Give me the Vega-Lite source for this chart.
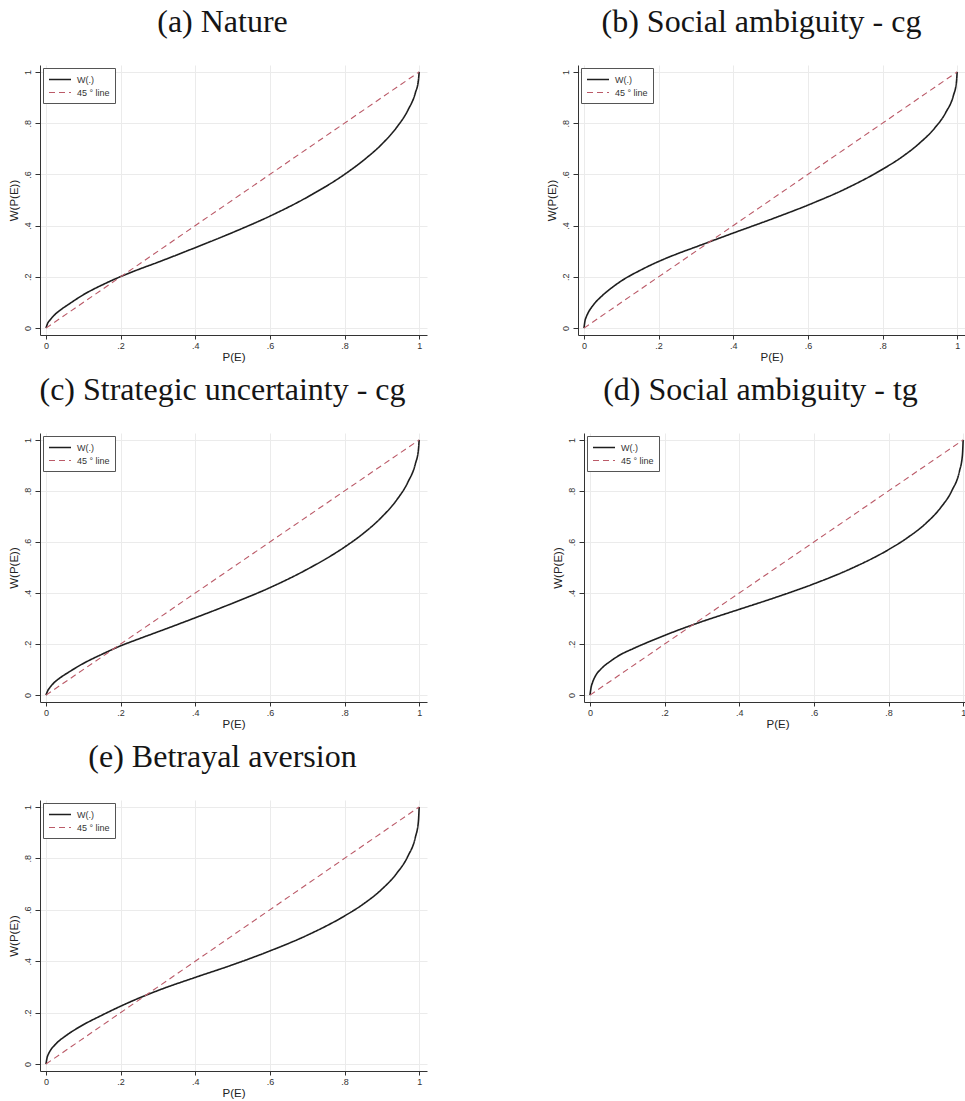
{
  "$schema": "https://vega.github.io/schema/vega-lite/v6.json",
  "background": "white",
  "padding": {"left": 7, "top": 6, "right": 0, "bottom": 0},
  "datasets": {
    "curves": [
      {"panel": "a", "series": "W(.)", "p": 0, "w": 0},
      {"panel": "a", "series": "W(.)", "p": 0.005, "w": 0.02},
      {"panel": "a", "series": "W(.)", "p": 0.01, "w": 0.03},
      {"panel": "a", "series": "W(.)", "p": 0.02, "w": 0.047},
      {"panel": "a", "series": "W(.)", "p": 0.04, "w": 0.072},
      {"panel": "a", "series": "W(.)", "p": 0.06, "w": 0.092},
      {"panel": "a", "series": "W(.)", "p": 0.1, "w": 0.13},
      {"panel": "a", "series": "W(.)", "p": 0.15, "w": 0.168},
      {"panel": "a", "series": "W(.)", "p": 0.2, "w": 0.201},
      {"panel": "a", "series": "W(.)", "p": 0.25, "w": 0.23},
      {"panel": "a", "series": "W(.)", "p": 0.3, "w": 0.257},
      {"panel": "a", "series": "W(.)", "p": 0.4, "w": 0.314},
      {"panel": "a", "series": "W(.)", "p": 0.5, "w": 0.373},
      {"panel": "a", "series": "W(.)", "p": 0.6, "w": 0.437},
      {"panel": "a", "series": "W(.)", "p": 0.7, "w": 0.511},
      {"panel": "a", "series": "W(.)", "p": 0.8, "w": 0.6},
      {"panel": "a", "series": "W(.)", "p": 0.85, "w": 0.654},
      {"panel": "a", "series": "W(.)", "p": 0.9, "w": 0.718},
      {"panel": "a", "series": "W(.)", "p": 0.94, "w": 0.784},
      {"panel": "a", "series": "W(.)", "p": 0.97, "w": 0.851},
      {"panel": "a", "series": "W(.)", "p": 0.99, "w": 0.919},
      {"panel": "a", "series": "W(.)", "p": 0.998, "w": 0.967},
      {"panel": "a", "series": "W(.)", "p": 1, "w": 1},
      {"panel": "a", "series": "45 ° line", "p": 0, "w": 0},
      {"panel": "a", "series": "45 ° line", "p": 1, "w": 1},

      {"panel": "b", "series": "W(.)", "p": 0, "w": 0},
      {"panel": "b", "series": "W(.)", "p": 0.003, "w": 0.03},
      {"panel": "b", "series": "W(.)", "p": 0.006, "w": 0.043},
      {"panel": "b", "series": "W(.)", "p": 0.012, "w": 0.062},
      {"panel": "b", "series": "W(.)", "p": 0.025, "w": 0.09},
      {"panel": "b", "series": "W(.)", "p": 0.05, "w": 0.128},
      {"panel": "b", "series": "W(.)", "p": 0.075, "w": 0.158},
      {"panel": "b", "series": "W(.)", "p": 0.1, "w": 0.184},
      {"panel": "b", "series": "W(.)", "p": 0.15, "w": 0.225},
      {"panel": "b", "series": "W(.)", "p": 0.2, "w": 0.26},
      {"panel": "b", "series": "W(.)", "p": 0.25, "w": 0.29},
      {"panel": "b", "series": "W(.)", "p": 0.3, "w": 0.317},
      {"panel": "b", "series": "W(.)", "p": 0.4, "w": 0.371},
      {"panel": "b", "series": "W(.)", "p": 0.5, "w": 0.424},
      {"panel": "b", "series": "W(.)", "p": 0.6, "w": 0.48},
      {"panel": "b", "series": "W(.)", "p": 0.7, "w": 0.543},
      {"panel": "b", "series": "W(.)", "p": 0.8, "w": 0.62},
      {"panel": "b", "series": "W(.)", "p": 0.85, "w": 0.666},
      {"panel": "b", "series": "W(.)", "p": 0.9, "w": 0.723},
      {"panel": "b", "series": "W(.)", "p": 0.94, "w": 0.781},
      {"panel": "b", "series": "W(.)", "p": 0.97, "w": 0.843},
      {"panel": "b", "series": "W(.)", "p": 0.99, "w": 0.908},
      {"panel": "b", "series": "W(.)", "p": 0.998, "w": 0.959},
      {"panel": "b", "series": "W(.)", "p": 1, "w": 1},
      {"panel": "b", "series": "45 ° line", "p": 0, "w": 0},
      {"panel": "b", "series": "45 ° line", "p": 1, "w": 1},

      {"panel": "c", "series": "W(.)", "p": 0, "w": 0},
      {"panel": "c", "series": "W(.)", "p": 0.005, "w": 0.018},
      {"panel": "c", "series": "W(.)", "p": 0.01, "w": 0.029},
      {"panel": "c", "series": "W(.)", "p": 0.02, "w": 0.046},
      {"panel": "c", "series": "W(.)", "p": 0.04, "w": 0.07},
      {"panel": "c", "series": "W(.)", "p": 0.06, "w": 0.089},
      {"panel": "c", "series": "W(.)", "p": 0.1, "w": 0.124},
      {"panel": "c", "series": "W(.)", "p": 0.15, "w": 0.16},
      {"panel": "c", "series": "W(.)", "p": 0.2, "w": 0.193},
      {"panel": "c", "series": "W(.)", "p": 0.25, "w": 0.221},
      {"panel": "c", "series": "W(.)", "p": 0.3, "w": 0.248},
      {"panel": "c", "series": "W(.)", "p": 0.4, "w": 0.303},
      {"panel": "c", "series": "W(.)", "p": 0.5, "w": 0.36},
      {"panel": "c", "series": "W(.)", "p": 0.6, "w": 0.421},
      {"panel": "c", "series": "W(.)", "p": 0.7, "w": 0.493},
      {"panel": "c", "series": "W(.)", "p": 0.8, "w": 0.58},
      {"panel": "c", "series": "W(.)", "p": 0.85, "w": 0.633},
      {"panel": "c", "series": "W(.)", "p": 0.9, "w": 0.698},
      {"panel": "c", "series": "W(.)", "p": 0.94, "w": 0.765},
      {"panel": "c", "series": "W(.)", "p": 0.97, "w": 0.835},
      {"panel": "c", "series": "W(.)", "p": 0.99, "w": 0.907},
      {"panel": "c", "series": "W(.)", "p": 0.998, "w": 0.961},
      {"panel": "c", "series": "W(.)", "p": 1, "w": 1},
      {"panel": "c", "series": "45 ° line", "p": 0, "w": 0},
      {"panel": "c", "series": "45 ° line", "p": 1, "w": 1},

      {"panel": "d", "series": "W(.)", "p": 0, "w": 0},
      {"panel": "d", "series": "W(.)", "p": 0.003, "w": 0.03},
      {"panel": "d", "series": "W(.)", "p": 0.007, "w": 0.05},
      {"panel": "d", "series": "W(.)", "p": 0.015, "w": 0.076},
      {"panel": "d", "series": "W(.)", "p": 0.03, "w": 0.103},
      {"panel": "d", "series": "W(.)", "p": 0.056, "w": 0.134},
      {"panel": "d", "series": "W(.)", "p": 0.08, "w": 0.157},
      {"panel": "d", "series": "W(.)", "p": 0.114, "w": 0.181},
      {"panel": "d", "series": "W(.)", "p": 0.15, "w": 0.204},
      {"panel": "d", "series": "W(.)", "p": 0.2, "w": 0.234},
      {"panel": "d", "series": "W(.)", "p": 0.25, "w": 0.262},
      {"panel": "d", "series": "W(.)", "p": 0.3, "w": 0.288},
      {"panel": "d", "series": "W(.)", "p": 0.4, "w": 0.336},
      {"panel": "d", "series": "W(.)", "p": 0.5, "w": 0.384},
      {"panel": "d", "series": "W(.)", "p": 0.6, "w": 0.436},
      {"panel": "d", "series": "W(.)", "p": 0.7, "w": 0.496},
      {"panel": "d", "series": "W(.)", "p": 0.8, "w": 0.57},
      {"panel": "d", "series": "W(.)", "p": 0.85, "w": 0.616},
      {"panel": "d", "series": "W(.)", "p": 0.9, "w": 0.673},
      {"panel": "d", "series": "W(.)", "p": 0.94, "w": 0.735},
      {"panel": "d", "series": "W(.)", "p": 0.97, "w": 0.802},
      {"panel": "d", "series": "W(.)", "p": 0.99, "w": 0.877},
      {"panel": "d", "series": "W(.)", "p": 0.998, "w": 0.94},
      {"panel": "d", "series": "W(.)", "p": 1, "w": 1},
      {"panel": "d", "series": "45 ° line", "p": 0, "w": 0},
      {"panel": "d", "series": "45 ° line", "p": 1, "w": 1},

      {"panel": "e", "series": "W(.)", "p": 0, "w": 0},
      {"panel": "e", "series": "W(.)", "p": 0.003, "w": 0.025},
      {"panel": "e", "series": "W(.)", "p": 0.006, "w": 0.037},
      {"panel": "e", "series": "W(.)", "p": 0.011, "w": 0.051},
      {"panel": "e", "series": "W(.)", "p": 0.025, "w": 0.076},
      {"panel": "e", "series": "W(.)", "p": 0.055, "w": 0.112},
      {"panel": "e", "series": "W(.)", "p": 0.08, "w": 0.136},
      {"panel": "e", "series": "W(.)", "p": 0.1, "w": 0.153},
      {"panel": "e", "series": "W(.)", "p": 0.15, "w": 0.19},
      {"panel": "e", "series": "W(.)", "p": 0.2, "w": 0.225},
      {"panel": "e", "series": "W(.)", "p": 0.25, "w": 0.257},
      {"panel": "e", "series": "W(.)", "p": 0.3, "w": 0.286},
      {"panel": "e", "series": "W(.)", "p": 0.4, "w": 0.337},
      {"panel": "e", "series": "W(.)", "p": 0.5, "w": 0.386},
      {"panel": "e", "series": "W(.)", "p": 0.6, "w": 0.44},
      {"panel": "e", "series": "W(.)", "p": 0.7, "w": 0.501},
      {"panel": "e", "series": "W(.)", "p": 0.8, "w": 0.576},
      {"panel": "e", "series": "W(.)", "p": 0.85, "w": 0.622},
      {"panel": "e", "series": "W(.)", "p": 0.9, "w": 0.68},
      {"panel": "e", "series": "W(.)", "p": 0.94, "w": 0.742},
      {"panel": "e", "series": "W(.)", "p": 0.97, "w": 0.809},
      {"panel": "e", "series": "W(.)", "p": 0.99, "w": 0.883},
      {"panel": "e", "series": "W(.)", "p": 0.998, "w": 0.944},
      {"panel": "e", "series": "W(.)", "p": 1, "w": 1},
      {"panel": "e", "series": "45 ° line", "p": 0, "w": 0},
      {"panel": "e", "series": "45 ° line", "p": 1, "w": 1}
    ]
  },
  "spacing": 11,
  "resolve": {"scale": {"color": "independent", "strokeDash": "independent", "strokeWidth": "independent"}, "legend": {"color": "independent", "strokeDash": "independent"}},
  "vconcat": [
    {
      "spacing": 119,
      "resolve": {"scale": {"color": "independent", "strokeDash": "independent", "strokeWidth": "independent"}, "legend": {"color": "independent", "strokeDash": "independent"}},
      "hconcat": [
        {
          "width": 387, "height": 270,
          "title": {"text": "(a) Nature", "dx": -11},
          "data": {"name": "curves"},
          "transform": [{"filter": "datum.panel == 'a'"}],
          "mark": {"type": "line", "interpolate": "monotone"},
          "encoding": {
            "x": {"field": "p", "type": "quantitative", "scale": {"domain": [-0.016, 1.021], "nice": false, "zero": false}, "axis": {"title": "P(E)", "values": [0, 0.2, 0.4, 0.6, 0.8, 1]}},
            "y": {"field": "w", "type": "quantitative", "scale": {"domain": [-0.027, 1.027], "nice": false, "zero": false}, "axis": {"title": "W(P(E))", "values": [0, 0.2, 0.4, 0.6, 0.8, 1]}},
            "color": {"field": "series", "type": "nominal", "scale": {"domain": ["W(.)", "45 ° line"], "range": ["#1e1e1e", "#bb5a68"]}, "legend": {"title": null}},
            "strokeDash": {"field": "series", "type": "nominal", "scale": {"domain": ["W(.)", "45 ° line"], "range": [[1, 0], [6, 4]]}, "legend": {"title": null}},
            "strokeWidth": {"field": "series", "type": "nominal", "scale": {"domain": ["W(.)", "45 ° line"], "range": [1.6, 1.1]}, "legend": null}
          }
        },
        {
          "width": 387, "height": 270,
          "title": {"text": "(b) Social ambiguity - cg", "dx": -10},
          "data": {"name": "curves"},
          "transform": [{"filter": "datum.panel == 'b'"}],
          "mark": {"type": "line", "interpolate": "monotone"},
          "encoding": {
            "x": {"field": "p", "type": "quantitative", "scale": {"domain": [-0.016, 1.021], "nice": false, "zero": false}, "axis": {"title": "P(E)", "values": [0, 0.2, 0.4, 0.6, 0.8, 1]}},
            "y": {"field": "w", "type": "quantitative", "scale": {"domain": [-0.027, 1.027], "nice": false, "zero": false}, "axis": {"title": "W(P(E))", "values": [0, 0.2, 0.4, 0.6, 0.8, 1]}},
            "color": {"field": "series", "type": "nominal", "scale": {"domain": ["W(.)", "45 ° line"], "range": ["#1e1e1e", "#bb5a68"]}, "legend": {"title": null}},
            "strokeDash": {"field": "series", "type": "nominal", "scale": {"domain": ["W(.)", "45 ° line"], "range": [[1, 0], [6, 4]]}, "legend": {"title": null}},
            "strokeWidth": {"field": "series", "type": "nominal", "scale": {"domain": ["W(.)", "45 ° line"], "range": [1.6, 1.1]}, "legend": null}
          }
        }
      ]
    },
    {
      "spacing": 125,
      "resolve": {"scale": {"color": "independent", "strokeDash": "independent", "strokeWidth": "independent"}, "legend": {"color": "independent", "strokeDash": "independent"}},
      "hconcat": [
        {
          "width": 387, "height": 269,
          "title": {"text": "(c) Strategic uncertainty - cg", "dx": -11},
          "data": {"name": "curves"},
          "transform": [{"filter": "datum.panel == 'c'"}],
          "mark": {"type": "line", "interpolate": "monotone"},
          "encoding": {
            "x": {"field": "p", "type": "quantitative", "scale": {"domain": [-0.016, 1.021], "nice": false, "zero": false}, "axis": {"title": "P(E)", "values": [0, 0.2, 0.4, 0.6, 0.8, 1]}},
            "y": {"field": "w", "type": "quantitative", "scale": {"domain": [-0.027, 1.027], "nice": false, "zero": false}, "axis": {"title": "W(P(E))", "values": [0, 0.2, 0.4, 0.6, 0.8, 1]}},
            "color": {"field": "series", "type": "nominal", "scale": {"domain": ["W(.)", "45 ° line"], "range": ["#1e1e1e", "#bb5a68"]}, "legend": {"title": null}},
            "strokeDash": {"field": "series", "type": "nominal", "scale": {"domain": ["W(.)", "45 ° line"], "range": [[1, 0], [6, 4]]}, "legend": {"title": null}},
            "strokeWidth": {"field": "series", "type": "nominal", "scale": {"domain": ["W(.)", "45 ° line"], "range": [1.6, 1.1]}, "legend": null}
          }
        },
        {
          "width": 387, "height": 269,
          "title": {"text": "(d) Social ambiguity - tg", "dx": -17},
          "data": {"name": "curves"},
          "transform": [{"filter": "datum.panel == 'd'"}],
          "mark": {"type": "line", "interpolate": "monotone"},
          "encoding": {
            "x": {"field": "p", "type": "quantitative", "scale": {"domain": [-0.016, 1.021], "nice": false, "zero": false}, "axis": {"title": "P(E)", "values": [0, 0.2, 0.4, 0.6, 0.8, 1]}},
            "y": {"field": "w", "type": "quantitative", "scale": {"domain": [-0.027, 1.027], "nice": false, "zero": false}, "axis": {"title": "W(P(E))", "values": [0, 0.2, 0.4, 0.6, 0.8, 1]}},
            "color": {"field": "series", "type": "nominal", "scale": {"domain": ["W(.)", "45 ° line"], "range": ["#1e1e1e", "#bb5a68"]}, "legend": {"title": null}},
            "strokeDash": {"field": "series", "type": "nominal", "scale": {"domain": ["W(.)", "45 ° line"], "range": [[1, 0], [6, 4]]}, "legend": {"title": null}},
            "strokeWidth": {"field": "series", "type": "nominal", "scale": {"domain": ["W(.)", "45 ° line"], "range": [1.6, 1.1]}, "legend": null}
          }
        }
      ]
    },
    {
      "width": 387, "height": 271,
      "title": {"text": "(e) Betrayal aversion", "dx": -11},
      "data": {"name": "curves"},
      "transform": [{"filter": "datum.panel == 'e'"}],
      "mark": {"type": "line", "interpolate": "monotone"},
      "encoding": {
        "x": {"field": "p", "type": "quantitative", "scale": {"domain": [-0.016, 1.021], "nice": false, "zero": false}, "axis": {"title": "P(E)", "values": [0, 0.2, 0.4, 0.6, 0.8, 1]}},
        "y": {"field": "w", "type": "quantitative", "scale": {"domain": [-0.027, 1.027], "nice": false, "zero": false}, "axis": {"title": "W(P(E))", "values": [0, 0.2, 0.4, 0.6, 0.8, 1]}},
        "color": {"field": "series", "type": "nominal", "scale": {"domain": ["W(.)", "45 ° line"], "range": ["#1e1e1e", "#bb5a68"]}, "legend": {"title": null}},
        "strokeDash": {"field": "series", "type": "nominal", "scale": {"domain": ["W(.)", "45 ° line"], "range": [[1, 0], [6, 4]]}, "legend": {"title": null}},
        "strokeWidth": {"field": "series", "type": "nominal", "scale": {"domain": ["W(.)", "45 ° line"], "range": [1.6, 1.1]}, "legend": null}
      }
    }
  ],
  "config": {
    "view": {"stroke": null},
    "title": {"font": "Liberation Serif", "fontSize": 32, "fontWeight": "normal", "color": "#151515", "anchor": "middle", "frame": "group", "baseline": "alphabetic", "offset": 26},
    "axis": {
      "domainColor": "#333", "domainWidth": 1, "tickColor": "#333", "tickWidth": 1,
      "labelFont": "Liberation Sans", "labelFontSize": 9, "labelColor": "#333", "labelFlush": false, "labelOverlap": false,
      "titleFont": "Liberation Sans", "titleFontSize": 11.5, "titleFontWeight": "normal", "titleColor": "#222",
      "gridColor": "#ebebeb", "gridWidth": 1,
      "labelExpr": "replace(format(datum.value, '.1~f'), '0.', '.')"
    },
    "axisX": {"tickSize": 4, "labelPadding": 2, "titlePadding": 1},
    "axisY": {"tickSize": 5, "labelAngle": 270, "labelAlign": "center", "labelBaseline": "bottom", "labelPadding": 3, "titlePadding": 4},
    "legend": {
      "orient": "top-left", "offset": 3, "symbolType": "M-1,0H3", "symbolSize": 121, "symbolStrokeWidth": 1.5,
      "labelFont": "Liberation Sans", "labelFontSize": 9, "labelColor": "#333", "labelOffset": 16,
      "strokeColor": "#555", "fillColor": "white", "padding": 5, "rowPadding": 1, "cornerRadius": 0
    }
  }
}
